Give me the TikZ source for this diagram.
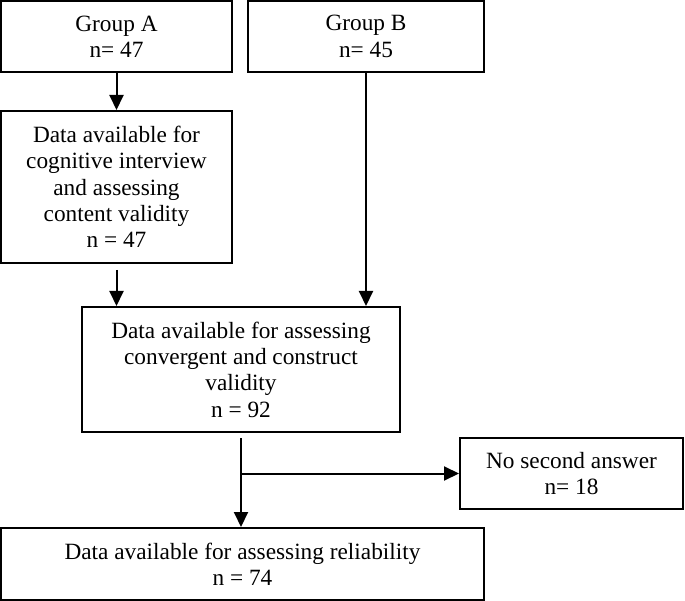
\documentclass[tikz,border=0pt]{standalone}
\usepackage{fontspec}
\setmainfont{Liberation Serif}
\usetikzlibrary{arrows.meta}
\begin{document}
\begin{tikzpicture}[x=1pt,y=-1pt,
  box/.style={draw, line width=2pt, inner sep=0pt, align=center, font=\fontsize{23.3}{26.3}\selectfont},
  arr/.style={line width=2pt, -{Triangle[length=15pt,width=14pt]}}]
\useasboundingbox (0,0) rectangle (685,601);
\node[box, minimum width=231pt, minimum height=71pt] (ga) at (116.5,36.5) {Group A\\n= 47};
\node[box, minimum width=236pt, minimum height=71pt] (gb) at (366,36.5) {Group B\\n= 45};
\node[box, minimum width=231pt, minimum height=152pt] (d1) at (116.5,187) {Data available for\\cognitive interview\\and assessing\\content validity\\n = 47};
\node[box, minimum width=318pt, minimum height=125pt] (d2) at (241,369.5) {Data available for assessing\\convergent and construct\\validity\\n = 92};
\node[box, minimum width=223pt, minimum height=71pt] (ns) at (571.5,473.5) {No second answer\\n= 18};
\node[box, minimum width=483pt, minimum height=72pt] (d3) at (242.5,564) {Data available for assessing reliability\\n = 74};
\draw[arr] (ga.south) -- (d1.north);
\draw[arr, shorten <=6pt] (d1.south) -- (d1.south |- d2.north);
\draw[arr] (gb.south) -- (gb.south |- d2.north);
\draw[arr, shorten <=5pt] (d2.south) -- (d2.south |- d3.north);
\draw[arr] (d2.south |- ns.west) -- (ns.west);
\end{tikzpicture}
\end{document}
